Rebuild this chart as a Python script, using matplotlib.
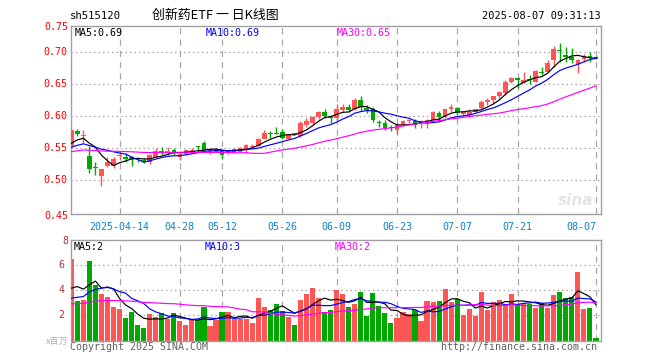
import numpy as np
import matplotlib
matplotlib.use('Agg')
import matplotlib.pyplot as plt

# ---------------- data ----------------
open_ = [0.554, 0.577, 0.569, 0.538, 0.520, 0.507, 0.522, 0.522, 0.538, 0.537,
         0.536, 0.534, 0.532, 0.529, 0.537, 0.546, 0.542, 0.548, 0.537, 0.541,
         0.543, 0.5525, 0.559, 0.544, 0.545, 0.547, 0.543, 0.543, 0.545, 0.548,
         0.552, 0.554, 0.565, 0.5725, 0.574, 0.575, 0.565, 0.5725, 0.569, 0.586,
         0.590, 0.599, 0.607, 0.599, 0.597, 0.610, 0.615, 0.611, 0.626, 0.613,
         0.611, 0.5905, 0.590, 0.583, 0.579, 0.586, 0.5925, 0.593, 0.589, 0.592,
         0.594, 0.605, 0.599, 0.611, 0.613, 0.603, 0.602, 0.607, 0.613, 0.623,
         0.6255, 0.632, 0.637, 0.654, 0.660, 0.6525, 0.657, 0.654, 0.669, 0.670,
         0.688, 0.7025, 0.696, 0.693, 0.682, 0.689, 0.6935, 0.693]
high = [0.582, 0.580, 0.578, 0.553, 0.528, 0.518, 0.537, 0.536, 0.545, 0.542,
        0.538, 0.536, 0.535, 0.541, 0.550, 0.552, 0.552, 0.551, 0.542, 0.549,
        0.550, 0.554, 0.561, 0.550, 0.551, 0.548, 0.548, 0.550, 0.552, 0.556,
        0.557, 0.566, 0.579, 0.577, 0.584, 0.580, 0.573, 0.574, 0.592, 0.597,
        0.601, 0.608, 0.611, 0.602, 0.619, 0.619, 0.619, 0.628, 0.631, 0.618,
        0.615, 0.595, 0.595, 0.586, 0.589, 0.595, 0.596, 0.596, 0.594, 0.596,
        0.608, 0.608, 0.612, 0.619, 0.615, 0.608, 0.612, 0.612, 0.626, 0.628,
        0.632, 0.640, 0.656, 0.662, 0.661, 0.670, 0.665, 0.672, 0.6775, 0.6875,
        0.710, 0.714, 0.709, 0.706, 0.6895, 0.697, 0.701, 0.695]
low = [0.551, 0.570, 0.558, 0.512, 0.508, 0.491, 0.521, 0.520, 0.531, 0.529,
       0.522, 0.528, 0.527, 0.525, 0.536, 0.540, 0.539, 0.539, 0.531, 0.539,
       0.542, 0.545, 0.547, 0.541, 0.544, 0.533, 0.541, 0.542, 0.544, 0.542,
       0.550, 0.553, 0.565, 0.566, 0.572, 0.565, 0.564, 0.5705, 0.568, 0.584,
       0.588, 0.596, 0.597, 0.590, 0.595, 0.607, 0.606, 0.610, 0.609, 0.605,
       0.591, 0.584, 0.578, 0.577, 0.573, 0.585, 0.590, 0.581, 0.582, 0.581,
       0.593, 0.595, 0.598, 0.606, 0.602, 0.600, 0.600, 0.606, 0.612, 0.618,
       0.620, 0.629, 0.634, 0.652, 0.645, 0.652, 0.650, 0.653, 0.6645, 0.669,
       0.6775, 0.685, 0.685, 0.683, 0.667, 0.6855, 0.685, 0.689]
close = [0.579, 0.573, 0.570, 0.518, 0.519, 0.517, 0.529, 0.533, 0.539, 0.533,
         0.533, 0.533, 0.529, 0.539, 0.546, 0.542, 0.546, 0.543, 0.541, 0.547,
         0.548, 0.552, 0.548, 0.547, 0.549, 0.540, 0.546, 0.549, 0.550, 0.555,
         0.554, 0.565, 0.574, 0.572, 0.573, 0.566, 0.572, 0.572, 0.590, 0.593,
         0.599, 0.607, 0.601, 0.597, 0.611, 0.615, 0.610, 0.626, 0.614, 0.610,
         0.595, 0.5895, 0.581, 0.582, 0.586, 0.593, 0.5932, 0.586, 0.593, 0.594,
         0.606, 0.599, 0.611, 0.614, 0.605, 0.606, 0.606, 0.611, 0.623, 0.6255,
         0.631, 0.638, 0.654, 0.660, 0.657, 0.657, 0.6565, 0.671, 0.668, 0.684,
         0.705, 0.702, 0.693, 0.688, 0.688, 0.695, 0.693, 0.6895]
volume = [6.48, 3.15, 3.23, 6.35, 4.37, 3.71, 3.42, 2.70, 2.52, 1.75,
          2.30, 1.25, 1.03, 2.14, 1.88, 2.20, 1.72, 2.20, 1.51, 1.25,
          1.59, 1.59, 2.67, 1.17, 1.59, 2.28, 2.28, 1.72, 1.72, 1.72,
          1.40, 3.39, 2.67, 2.41, 2.91, 2.38, 1.90, 1.25, 3.23, 3.73,
          4.18, 3.39, 2.30, 2.46, 4.02, 3.71, 2.67, 2.91, 3.87, 1.96,
          3.79, 2.75, 2.20, 1.40, 1.80, 2.28, 2.12, 2.44, 1.56, 3.15,
          3.07, 3.10, 4.10, 3.07, 3.28, 2.04, 2.52, 1.98, 3.87, 2.46,
          3.07, 3.20, 2.91, 3.71, 2.86, 2.97, 2.86, 2.60, 2.97, 2.62,
          3.63, 3.87, 3.34, 3.44, 5.45, 2.52, 2.62, 0.21]
# closes / volumes of the 29 sessions before the window (warm-up for the moving averages)
prior_close = [0.530, 0.532, 0.528, 0.535, 0.538, 0.536, 0.540, 0.543, 0.541, 0.545,
               0.548, 0.546, 0.544, 0.547, 0.550, 0.545, 0.542, 0.546, 0.543, 0.545,
               0.543, 0.547, 0.544, 0.546, 0.547, 0.5468, 0.557, 0.5566, 0.550]
prior_volume = [2.5, 2.9, 2.7, 2.4, 2.8, 3.0, 2.6, 2.5, 2.7, 2.9,
                2.6, 2.8, 2.5, 2.7, 2.9, 2.6, 2.4, 2.7, 2.8, 2.7,
                2.4, 2.7, 2.5, 2.6, 2.6, 2.52, 4.26, 4.65, 2.89]
tick_idx = [8, 18, 25, 35, 44, 54, 64, 74, 87]
tick_labels = ['2025-04-14', '04-28', '05-12', '05-26', '06-09', '06-23',
               '07-07', '07-21', '08-07']
price_ticks = [0.50, 0.55, 0.60, 0.65, 0.70]
price_edge_labels = ['0.75', '0.45']
vol_ticks = [2, 4, 6]
code = 'sh515120'
title = '创新药ETF 一 日K线图'
stamp = '2025-08-07 09:31:13'

# ---------------- style ----------------
RED = '#ff5555'
GREEN = '#00a800'
GRID = '#a8a8a8'
BORDER = '#a0a0a0'
DATEC = '#0a82d2'
MONO = 'DejaVu Sans Mono'
FS = 7.2

W, H = 660, 360
fig = plt.figure(figsize=(6.6, 3.6), dpi=100)
fig.patch.set_facecolor('white')


def fx(x):
    return x / W


def fy(y):
    return 1 - y / H


L, R = 70.7, 601.0
MT, MB = 26.3, 213.5
VT, VB = 239.8, 340.5
PX = 6.03
X0 = 71.3

ax = fig.add_axes([fx(L), fy(MB), (R - L) / W, (MB - MT) / H])
axv = fig.add_axes([fx(L), fy(VB), (R - L) / W, (VB - VT) / H])

o = np.array(open_); h = np.array(high); lo = np.array(low); c = np.array(close)
v = np.array(volume)
n = len(c)
idx = np.arange(n)
up = c >= o
cols = np.where(up, RED, GREEN)


def ma(arr, k):
    return np.convolve(arr, np.ones(k) / k, mode='valid')


fc = np.concatenate([prior_close, c])
fv = np.concatenate([prior_volume, v])
ma5, ma10, ma30 = ma(fc, 5)[-n:], ma(fc, 10)[-n:], ma(fc, 30)[-n:]
vma5, vma10, vma30 = ma(fv, 5)[-n:], ma(fv, 10)[-n:], ma(fv, 30)[-n:]

xl = ((L - X0) / PX, (R - X0) / PX)
ylo = 0.50 - (213.5 - 180.3) / 640
yhi = 0.70 + (52.3 - 26.3) / 640

for a in (ax, axv):
    a.set_xlim(*xl)
    for s in a.spines.values():
        s.set_color(BORDER)
        s.set_linewidth(1.0)
    a.set_xticks([])
    a.set_yticks([])
    for t in tick_idx:
        a.axvline(t, color=GRID, lw=0.9, ls=(0, (5, 4)), zorder=0)

ax.set_ylim(ylo, yhi)
for p in price_ticks:
    ax.axhline(p, color=GRID, lw=0.9, ls=(0, (1.2, 2.4)), zorder=0)

# candles
ax.vlines(idx, lo, h, colors=cols, linewidth=1.0, zorder=2)
body_b = np.minimum(o, c)
body_h = np.maximum(np.abs(c - o), 0.0016)
ax.bar(idx, body_h, bottom=body_b, width=0.76, color=cols, linewidth=0, zorder=3)
ax.plot(idx, ma5, color='black', lw=0.85, zorder=4)
ax.plot(idx, ma10, color='#0000ff', lw=0.85, zorder=4)
ax.plot(idx, ma30, color='#ff00ff', lw=0.85, zorder=4)

# volume
axv.set_ylim(0, 8)
for vt in vol_ticks:
    axv.axhline(vt, color=GRID, lw=0.9, ls=(0, (1.2, 2.4)), zorder=0)
axv.bar(idx, v, width=0.86, color=cols, linewidth=0, zorder=2)
axv.plot(idx, vma5, color='black', lw=0.85, zorder=4)
axv.plot(idx, vma10, color='#0000ff', lw=0.85, zorder=4)
axv.plot(idx, vma30, color='#ff00ff', lw=0.85, zorder=4)

# watermark
ax.text(0.985, 0.03, 'sina', transform=ax.transAxes, ha='right', va='bottom',
        fontsize=11, fontstyle='italic', fontweight='bold', color='#e4e4e4', zorder=1)

# header
fig.text(fx(70), fy(16), code, fontsize=FS + 0.5, family=MONO, va='center', ha='left')
fig.text(fx(152), fy(15), title, fontsize=9.3,
         family=['Noto Sans CJK SC', 'DejaVu Sans'], va='center', ha='left')
fig.text(fx(601), fy(16), stamp, fontsize=FS + 0.3, family=MONO, va='center', ha='right')

# MA legends
fig.text(fx(75), fy(33), 'MA5:%.2f' % ma5[-1], fontsize=FS, family=MONO, color='black', va='center')
fig.text(fx(206), fy(33), 'MA10:%.2f' % ma10[-1], fontsize=FS, family=MONO, color='#0000ff', va='center')
fig.text(fx(337), fy(33), 'MA30:%.2f' % ma30[-1], fontsize=FS, family=MONO, color='#ff00ff', va='center')
fig.text(fx(74), fy(247), 'MA5:%d' % int(vma5[-1]), fontsize=FS, family=MONO, color='black', va='center')
fig.text(fx(205), fy(247), 'MA10:%d' % int(vma10[-1]), fontsize=FS, family=MONO, color='#0000ff', va='center')
fig.text(fx(335), fy(247), 'MA30:%d' % int(vma30[-1]), fontsize=FS, family=MONO, color='#ff00ff', va='center')

# price labels
for p in price_ticks:
    ax.text(-0.006, (p - ylo) / (yhi - ylo), '%.2f' % p, transform=ax.transAxes,
            ha='right', va='center', fontsize=FS, family=MONO, color='#ff0000')
fig.text(fx(68), fy(27.5), price_edge_labels[0], ha='right', va='center', fontsize=FS, family=MONO, color='#ff0000')
fig.text(fx(68), fy(216), price_edge_labels[1], ha='right', va='center', fontsize=FS, family=MONO, color='#ff0000')

# volume labels
for vt in vol_ticks:
    axv.text(-0.012, vt / 8, '%d' % vt, transform=axv.transAxes, ha='right', va='center',
             fontsize=FS, family=MONO, color='#b03030')
fig.text(fx(68), fy(241), '8', ha='right', va='center', fontsize=FS, family=MONO, color='#b03030')
fig.text(fx(68), fy(341), 'x百万', ha='right', va='center', fontsize=6.5,
         family=['Noto Sans CJK SC', 'DejaVu Sans'], color='#b0b0b0')

# date labels
for k, (t, lab) in enumerate(zip(tick_idx, tick_labels)):
    xp = X0 + t * PX
    ha = 'right' if k == len(tick_idx) - 1 else 'center'
    fig.text(fx(xp), fy(227.5), lab, ha=ha, va='center', fontsize=FS, family=MONO, color=DATEC)

fig.text(fx(70), fy(346.5), 'Copyright 2025 SINA.COM', ha='left', va='center', fontsize=FS, family=MONO, color='#606060')
fig.text(fx(597), fy(346.5), 'http://finance.sina.com.cn', ha='right', va='center', fontsize=FS, family=MONO, color='#606060')

fig.savefig('out.png', dpi=100, facecolor='white')
